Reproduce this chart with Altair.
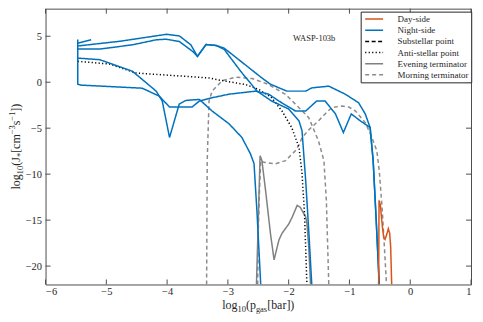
import altair as alt
import pandas as pd

# ---------------- data ----------------
SERIES = ["Day-side", "Night-side", "Substellar point", "Anti-stellar point",
          "Evening terminator", "Morning terminator"]

DAY_X = [-0.52, -0.513, -0.49, -0.479, -0.458, -0.437, -0.414, -0.381, -0.36, -0.338, -0.322, -0.305]
DAY_Y = [-22.0, -12.85, -13.39, -14.28, -15.73, -16.87, -17.09, -16.44, -15.94, -16.44, -17.89, -22.0]

NIGHT0_X = [-5.25, -5.47]
NIGHT0_Y = [4.61, 4.24]

NIGHT1_X = [-5.47, -5.47, -5.41, -4.41, -4.13, -3.96, -3.59, -3.47, -3.26, -2.98, -2.54, -2.33,
            -2.16, -1.89, -1.72, -1.54, -1.40, -1.23, -1.10, -0.97, -0.82, -0.66, -0.61, -0.56, -0.51]
NIGHT1_Y = [4.64, -0.22, -0.32, -0.65, -1.51, -2.70, -2.70, -2.05, -1.69, -1.30, -0.97, -1.30,
            -2.05, -3.13, -3.13, -2.05, -2.05, -3.45, -5.47, -3.45, -4.21, -4.93, -8.53, -15.0, -22.0]

NIGHT2_X = [-5.47, -5.11, -4.57, -4.18, -4.08, -3.96, -3.80, -3.69, -3.47, -3.26, -2.98, -2.77,
            -2.63, -2.57, -2.52, -2.46]
NIGHT2_Y = [2.62, 2.45, 1.19, -0.97, -2.05, -6.01, -2.37, -1.98, -1.87, -3.13, -4.53, -6.01,
            -7.77, -8.85, -14.25, -22.0]

NIGHT3_X = [-5.47, -4.78, -4.01, -3.80, -3.61, -3.50, -3.36, -3.19, -3.06, -2.79, -2.52, -2.28,
            -2.00, -1.83, -1.78, -1.72, -1.67, -1.62]
NIGHT3_Y = [3.94, 4.45, 5.21, 5.04, 4.07, 2.81, 4.10, 3.99, 3.56, 1.19, -0.97, -2.05,
            -2.91, -4.21, -5.29, -10.7, -16.1, -22.0]

NIGHT4_X = [-5.47, -5.11, -4.57, -4.18, -4.02, -3.80, -3.58, -3.50, -3.36, -3.19, -3.06, -2.44,
            -2.30, -2.03, -1.72, -1.62, -1.34, -1.07, -0.85, -0.74, -0.66, -0.61, -0.56, -0.51]
NIGHT4_Y = [3.60, 3.60, 4.07, 4.61, 4.68, 4.43, 3.35, 2.81, 4.10, 3.99, 3.70, 0.46,
            -0.22, -0.97, -0.97, -0.62, -0.43, -1.30, -2.23, -3.45, -4.93, -8.53, -15.0, -22.0]

ANTI_X = [-5.47, -4.95, -4.51, -4.13, -3.31, -3.10, -2.71, -2.49, -2.28, -2.11, -1.95, -1.83,
          -1.78, -1.74, -1.70]
ANTI_Y = [2.27, 1.98, 1.00, 0.83, 0.46, 0.18, -0.25, -0.79, -1.69, -3.13, -4.93, -7.09,
          -9.93, -14.25, -22.0]

EVE_X = [-2.53, -2.50, -2.47, -2.44, -2.38, -2.30, -2.24, -2.16, -2.11, -2.00, -1.94, -1.86,
         -1.81, -1.72, -1.70, -1.67, -1.64]
EVE_Y = [-22.0, -15.0, -7.99, -8.53, -11.77, -16.44, -19.32, -17.16, -16.44, -15.44, -14.65, -13.39,
         -13.60, -14.65, -15.33, -17.89, -22.0]

MORN1_X = [-3.35, -3.34, -3.32, -3.31, -3.26, -3.09, -2.87, -2.60, -2.33, -2.05, -1.83, -1.67,
           -1.51, -1.42, -1.38, -1.34]
MORN1_Y = [-22.0, -8.53, -4.21, -2.05, -0.97, 0.18, 0.54, 0.40, -0.25, -1.33, -2.77, -3.85,
           -6.37, -8.53, -12.85, -22.0]

MORN2_X = [-2.51, -2.50, -2.48, -2.46, -2.41, -2.22, -2.05, -1.89, -1.83, -1.78, -1.67, -1.51,
           -1.40, -1.29, -1.12, -1.01, -0.90, -0.74, -0.63, -0.55, -0.51, -0.46, -0.39]
MORN2_Y = [-22.0, -16.08, -11.77, -8.53, -8.71, -8.88, -8.53, -7.45, -6.80, -6.04, -5.18, -4.21,
           -3.45, -2.75, -2.59, -2.70, -3.13, -4.39, -6.01, -7.45, -9.61, -13.92, -22.0]

X_TICKS = [-6, -5, -4, -3, -2, -1, 0, 1]
Y_TICKS = [-20, -15, -10, -5, 0, 5]
PLANET = "WASP-103b"
PLANET_AT = (-1.58, 4.86)

# ---------------- styles ----------------
COLORS = ["#D95319", "#0072BD", "#000000", "#000000", "#808080", "#8c8c8c"]
DASHES = [[1, 0], [1, 0], [4, 2.5], [1.2, 2.3], [1, 0], [4, 3]]
FRAME = "#4d4d4d"
TXT = "#262626"
FONT = "Liberation Serif"
W, H = 427.3, 277

paths = [
    ("Morning terminator", "m1", MORN1_X, MORN1_Y),
    ("Morning terminator", "m2", MORN2_X, MORN2_Y),
    ("Evening terminator", "e1", EVE_X, EVE_Y),
    ("Anti-stellar point", "a1", ANTI_X, ANTI_Y),
    ("Night-side", "n0", NIGHT0_X, NIGHT0_Y),
    ("Night-side", "n1", NIGHT1_X, NIGHT1_Y),
    ("Night-side", "n2", NIGHT2_X, NIGHT2_Y),
    ("Night-side", "n3", NIGHT3_X, NIGHT3_Y),
    ("Night-side", "n4", NIGHT4_X, NIGHT4_Y),
    ("Day-side", "d1", DAY_X, DAY_Y),
]
rows = []
for s, pid, xs_, ys_ in paths:
    for i, (a, b) in enumerate(zip(xs_, ys_)):
        rows.append({"series": s, "path": pid, "ord": i, "x": a, "y": b})
df = pd.DataFrame(rows)

xs = alt.Scale(domain=[-6, 1], nice=False, zero=False)
ys = alt.Scale(domain=[-22, 8], nice=False, zero=False)

leg = alt.Legend(title=None, orient="none", legendX=316.5, legendY=3,
                 symbolType="M-2,0L2,0", symbolSize=81, symbolStrokeWidth=1.5,
                 symbolOffset=6, labelOffset=18, rowPadding=0.2, padding=2)

lines = alt.Chart(df).mark_line(clip=True, strokeWidth=1.5).encode(
    x=alt.X("x:Q", scale=xs, axis=alt.Axis(values=X_TICKS, title=None, format="d", labelPadding=2)),
    y=alt.Y("y:Q", scale=ys, axis=alt.Axis(values=Y_TICKS, title=None, format="d", labelPadding=4)),
    color=alt.Color("series:N", scale=alt.Scale(domain=SERIES, range=COLORS), legend=leg),
    strokeDash=alt.StrokeDash("series:N", scale=alt.Scale(domain=SERIES, range=DASHES), legend=leg),
    detail="path:N",
    order="ord:Q",
)

TL = 5
xt = alt.Chart(pd.DataFrame({"x": X_TICKS})).mark_rule(color=FRAME, strokeWidth=1)
yt = alt.Chart(pd.DataFrame({"y": Y_TICKS})).mark_rule(color=FRAME, strokeWidth=1)
tick_b = xt.encode(x=alt.X("x:Q", scale=xs), y=alt.value(H), y2=alt.value(H - TL))
tick_t = xt.encode(x=alt.X("x:Q", scale=xs), y=alt.value(0), y2=alt.value(TL))
tick_l = yt.encode(y=alt.Y("y:Q", scale=ys), x=alt.value(0), x2=alt.value(TL))
tick_r = yt.encode(y=alt.Y("y:Q", scale=ys), x=alt.value(W), x2=alt.value(W - TL))

planet = alt.Chart(pd.DataFrame({"x": [PLANET_AT[0]], "y": [PLANET_AT[1]], "t": [PLANET]})).mark_text(
    font=FONT, fontSize=8.5, color=TXT, baseline="middle", align="center"
).encode(x=alt.X("x:Q", scale=xs), y=alt.Y("y:Q", scale=ys), text="t:N")

# ---------------- axis titles built from pieces (sub/superscripts) ----------------
TW = {'l': 278, 'o': 500, 'g': 500, '1': 500, '0': 500, '(': 333, ')': 333, 'p': 500, 'a': 444,
      's': 389, '[': 333, ']': 333, 'b': 500, 'r': 333, 'J': 389, '*': 500, 'c': 444, 'm': 778,
      '−': 564, '3': 500}


def tw(s, size):
    return sum(TW.get(c, 500) for c in s) * size / 1000.0


XT_PIECES = [("log", 12, 0), ("10", 8.5, 3), ("(p", 12, 0), ("gas", 8.5, 3), ("[bar])", 12, 0)]
YT_PIECES = [("log", 12, 0), ("10", 8.5, 3), ("(J", 12, 0), ("*", 8.5, 3.5), ("[cm", 12, 0),
             ("−3", 8.5, -4.5), ("s", 12, 0), ("−1", 8.5, -4.5), ("])", 12, 0)]

title_layers = []
total = sum(tw(t, s) for t, s, _ in XT_PIECES)
cx = W / 2 - total / 2
base_y = 302
for t, s, sh in XT_PIECES:
    title_layers.append(
        alt.Chart(pd.DataFrame({"t": [t]})).mark_text(
            font=FONT, fontSize=s, color=TXT, align="left", baseline="alphabetic"
        ).encode(text="t:N", x=alt.value(cx), y=alt.value(base_y + sh))
    )
    cx += tw(t, s)

total = sum(tw(t, s) for t, s, _ in YT_PIECES)
cy = H / 2 + total / 2
base_x = -26
for t, s, sh in YT_PIECES:
    title_layers.append(
        alt.Chart(pd.DataFrame({"t": [t]})).mark_text(
            font=FONT, fontSize=s, color=TXT, align="left", baseline="alphabetic", angle=270
        ).encode(text="t:N", x=alt.value(base_x + sh), y=alt.value(cy))
    )
    cy -= tw(t, s)

chart = alt.layer(lines, tick_b, tick_t, tick_l, tick_r, planet, *title_layers).properties(
    width=W, height=H,
    autosize=alt.AutoSizeParams(type="none"),
    padding={"left": 37.7, "top": 0, "right": 4, "bottom": 30},
).configure_view(stroke=FRAME, strokeWidth=1).configure_axis(
    labelFont=FONT, labelFontSize=10.5, labelColor=TXT, grid=False, ticks=False, domain=False
).configure_legend(
    labelFont=FONT, labelFontSize=9, labelColor=TXT, strokeColor=TXT, fillColor="white",
    cornerRadius=0
)

chart.save("out.html", embed_options={"renderer": "svg", "actions": False})
